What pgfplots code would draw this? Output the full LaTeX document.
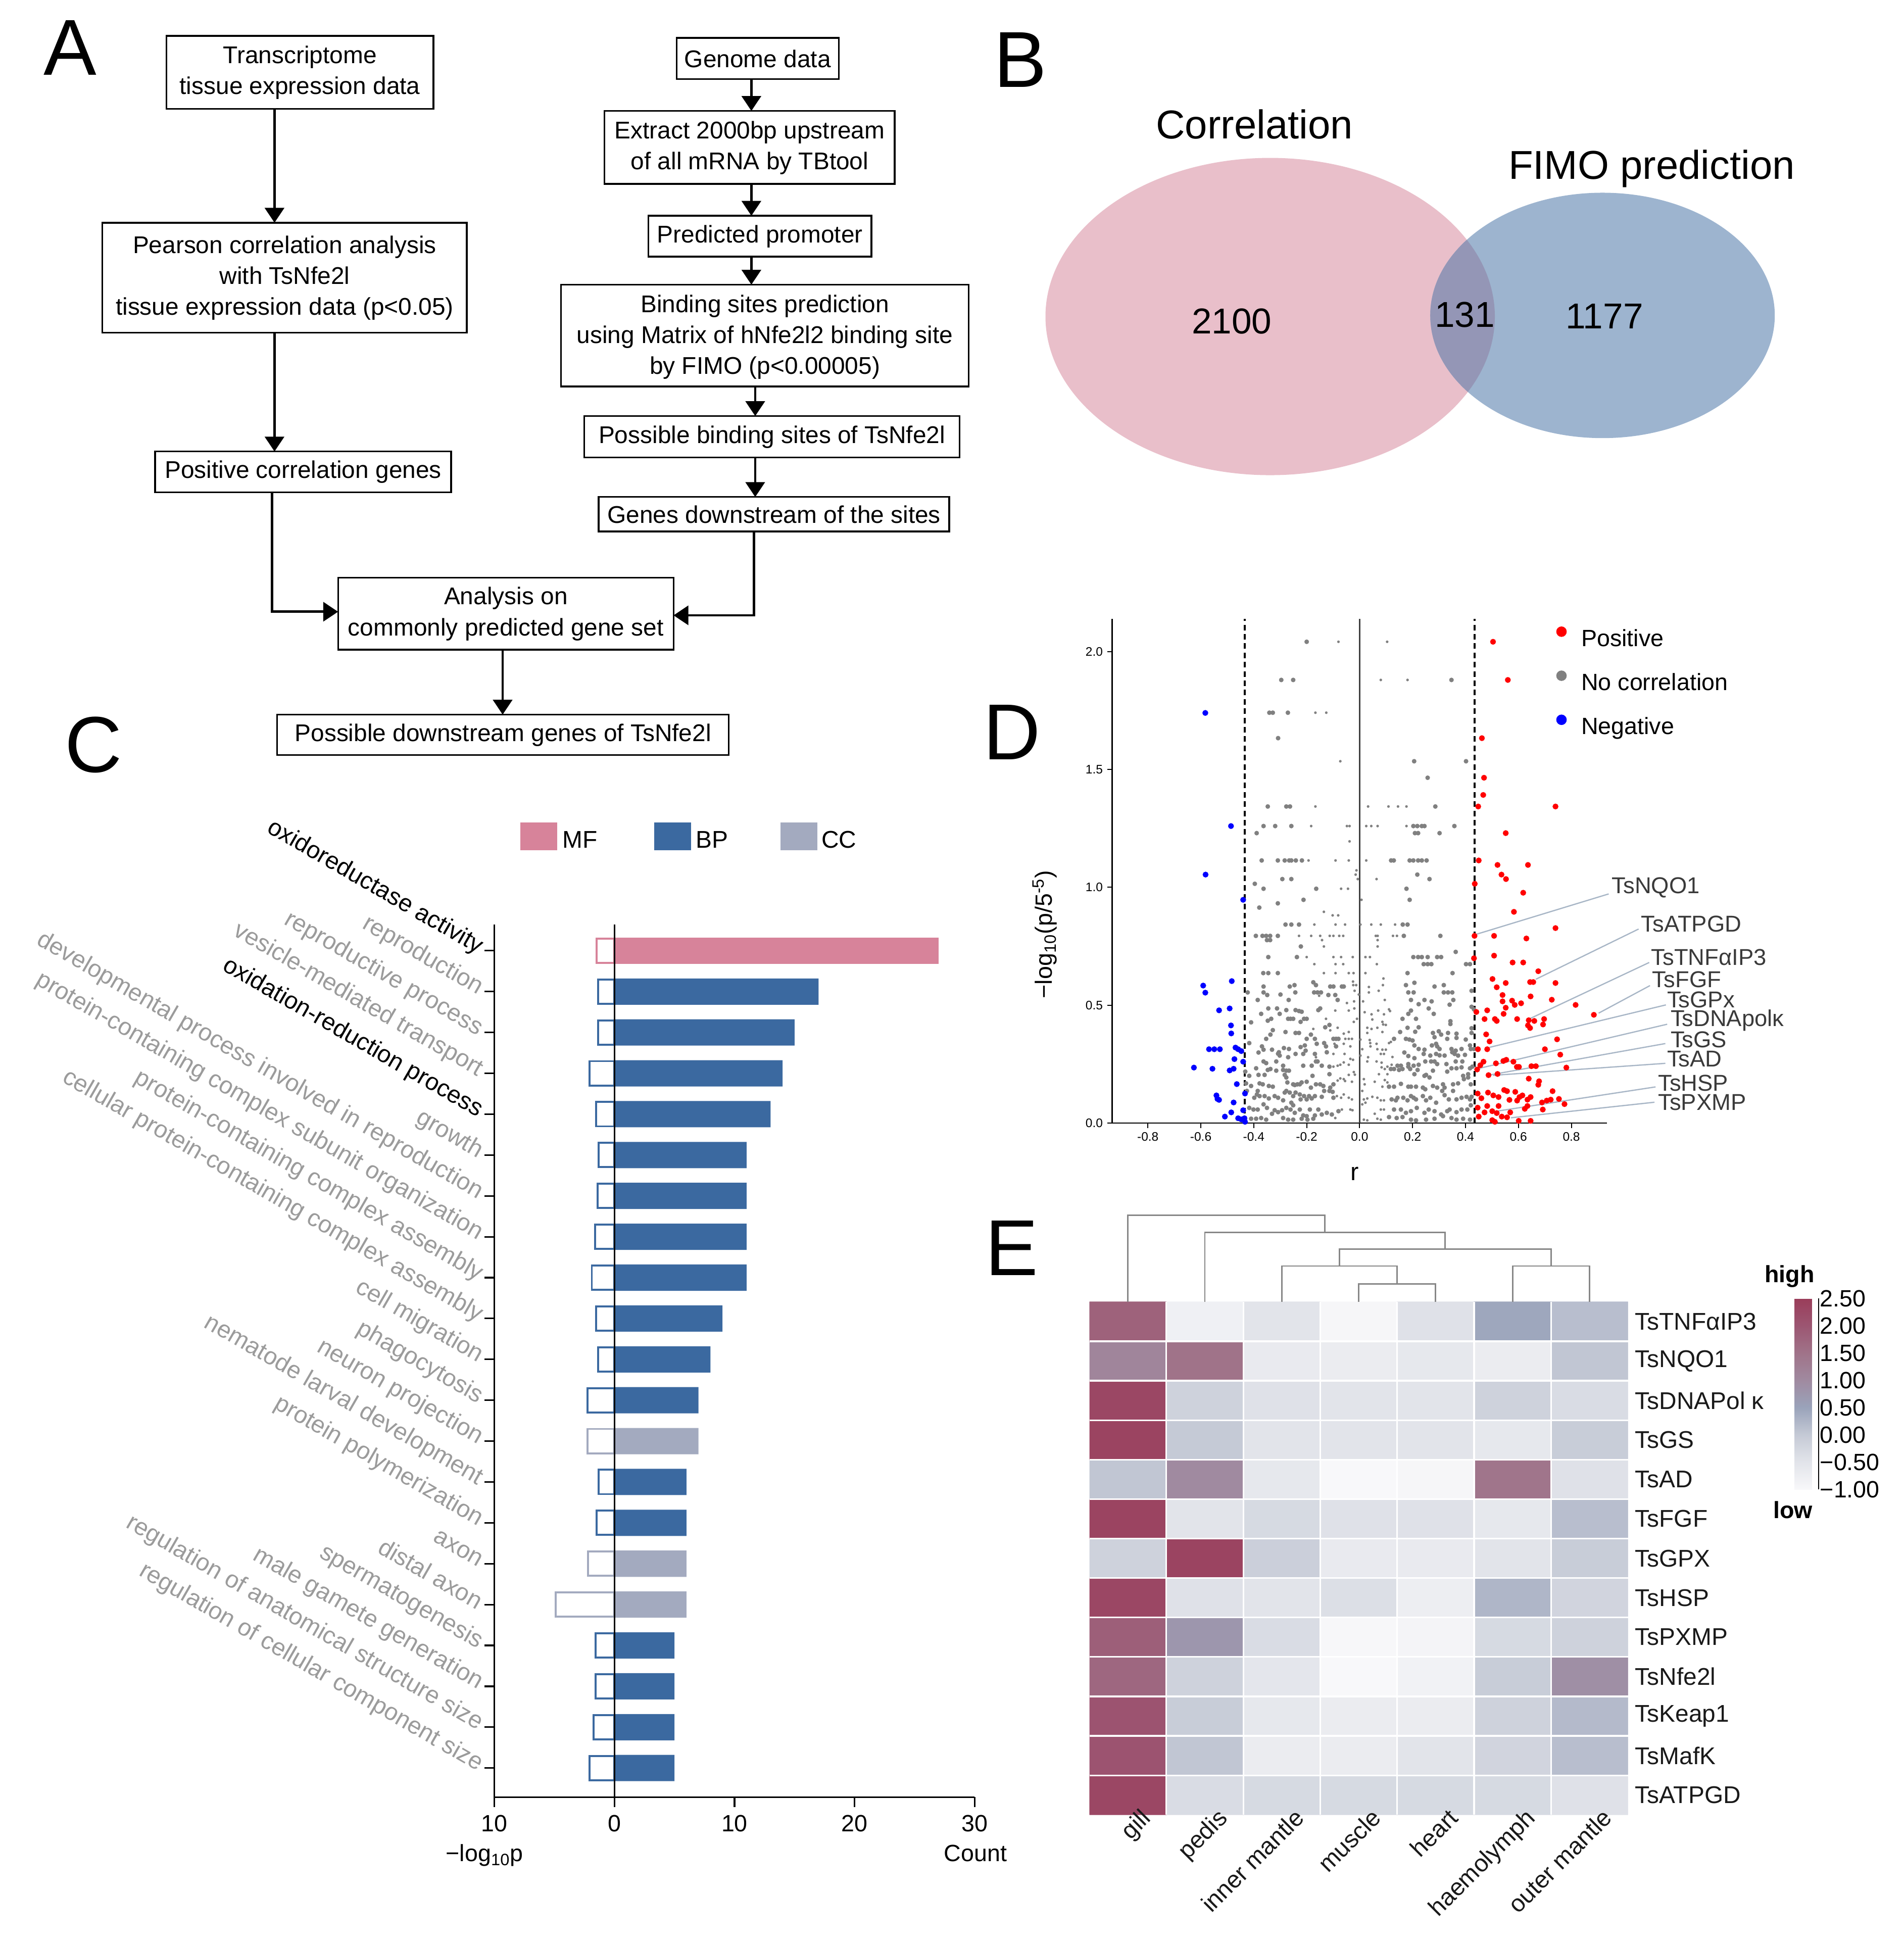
\documentclass[border=0pt]{standalone}
\usepackage{fontspec}
\setmainfont{Liberation Sans}
\usepackage{pgfplots}
\pgfplotsset{compat=1.18}
\usetikzlibrary{arrows.meta}

\definecolor{mfpink}{RGB}{215,131,154}
\definecolor{bpblue}{RGB}{59,105,160}
\definecolor{ccgray}{RGB}{163,170,191}
\definecolor{vennpink}{RGB}{233,191,202}
\definecolor{vennblue}{RGB}{157,180,207}
\definecolor{vennover}{RGB}{148,150,182}
\definecolor{labgray}{RGB}{155,155,155}
\definecolor{dotgray}{RGB}{128,128,128}
\definecolor{callout}{RGB}{168,182,198}
\definecolor{genetext}{RGB}{58,58,58}
\definecolor{dendro}{RGB}{135,135,135}

\newcommand{\fs}[1]{\fontsize{#1}{#1}\selectfont}

\begin{document}
\begin{tikzpicture}
\path[use as bounding box] (0pt,0pt) rectangle (1536pt,-1569.4pt);

\begin{scope}[x=1pt,y=-1pt]
% ---------- panel letters
\node[anchor=base, font=\fs{64}, inner sep=0] at (56.5,60.4) {A};
\node[anchor=base, font=\fs{64}, inner sep=0] at (823.5,70.2) {B};
\node[anchor=base, font=\fs{64}, inner sep=0] at (75.5,623) {C};
\node[anchor=base, font=\fs{64}, inner sep=0] at (816.5,613) {D};
\node[anchor=base, font=\fs{64}, inner sep=0] at (816.5,1029) {E};

% ---------- A: flow chart
\tikzset{fb/.style={line width=1.4pt},
  fa/.style={line width=2pt, -{Triangle[length=12pt,width=15.5pt]}},
  ft/.style={align=center, inner sep=0, font=\fontsize{19.5}{25}\selectfont}}
\draw[fb] (134.3,29.0) rectangle (349.8,87.8);
\node[ft] at (242,58.6) {Transcriptome\\tissue expression data};
\draw[fb] (546,30.6) rectangle (676.8,63.7);
\node[ft] at (611.4,47.4) {Genome data};
\draw[fb] (487.7,89.5) rectangle (722,148.3);
\node[ft] at (604.9,119.3) {Extract 2000bp upstream\\of all mRNA by TBtool};
\draw[fb] (523.2,174.1) rectangle (703.2,207.1);
\node[ft] at (613.2,190.8) {Predicted promoter};
\draw[fb] (452.7,229.7) rectangle (781.7,311.9);
\node[ft] at (617.2,272) {Binding sites prediction\\using Matrix of hNfe2l2 binding site\\by FIMO (p<0.00005)};
\draw[fb] (471.5,335.7) rectangle (774.2,369.1);
\node[ft] at (622.9,352.6) {Possible binding sites of TsNfe2l};
\draw[fb] (483.1,401) rectangle (766,428.8);
\node[ft] at (624.6,415) {Genes downstream of the sites};
\draw[fb] (82.6,179.7) rectangle (376.7,268.4);
\node[ft] at (229.7,224.3) {Pearson correlation analysis\\with TsNfe2l\\tissue expression data (p<0.05)};
\draw[fb] (125.2,364.3) rectangle (364,397.3);
\node[ft] at (244.6,380.9) {Positive correlation genes};
\draw[fb] (272.8,466.2) rectangle (543.5,524.3);
\node[ft] at (408.2,495.3) {Analysis on\\commonly predicted gene set};
\draw[fb] (223.6,576.6) rectangle (588.1,609.3);
\node[ft] at (405.9,593.1) {Possible downstream genes of TsNfe2l};

\draw[fa] (221.5,87.8) -- (221.5,179.7);
\draw[fa] (221.5,268.4) -- (221.5,364.3);
\draw[fa] (219.5,397.3) -- (219.5,493.6) -- (272.8,493.6);
\draw[fa] (606.3,63.7) -- (606.3,89.5);
\draw[fa] (606.3,148.3) -- (606.3,174.1);
\draw[fa] (606.3,207.1) -- (606.3,229.7);
\draw[fa] (609.4,311.9) -- (609.4,335.7);
\draw[fa] (609.4,369.1) -- (609.4,401);
\draw[fa] (608.4,428.8) -- (608.4,496.5) -- (543.5,496.5);
\draw[fa] (405.6,524.3) -- (405.6,576.6);

% ---------- B: Venn
\fill[vennpink] (1024.9,255.4) ellipse [x radius=181.3pt, y radius=128pt];
\fill[vennblue] (1293.1,254.5) ellipse [x radius=139pt, y radius=99pt];
\begin{scope}
\clip (1024.9,255.4) ellipse [x radius=181.3pt, y radius=128pt];
\fill[vennover] (1293.1,254.5) ellipse [x radius=139pt, y radius=99pt];
\end{scope}
\node[anchor=base, font=\fs{32.5}, inner sep=0] at (1012.3,111.8) {Correlation};
\node[anchor=base, font=\fs{32.5}, inner sep=0] at (1332.8,144.3) {FIMO prediction};
\node[anchor=base, font=\fs{29}, inner sep=0] at (993.9,269.1) {2100};
\node[anchor=base, font=\fs{29}, inner sep=0] at (1182,263.9) {131};
\node[anchor=base, font=\fs{29}, inner sep=0] at (1294.7,265.2) {1177};

% ---------- C: legend and axis titles
\fill[mfpink] (420,663.7) rectangle (449.5,686);
\node[anchor=base west, font=\fs{19.5}, inner sep=0] at (453.7,684.3) {MF};
\fill[bpblue] (527.9,663.7) rectangle (557.6,686);
\node[anchor=base west, font=\fs{19.5}, inner sep=0] at (561.5,684.3) {BP};
\fill[ccgray] (629.7,663.7) rectangle (659.5,686);
\node[anchor=base west, font=\fs{19.5}, inner sep=0] at (662.7,684.3) {CC};
\node[anchor=base, font=\fs{19}, inner sep=0] at (391,1502) {−log\textsubscript{10}p};
\node[anchor=base, font=\fs{19}, inner sep=0] at (787.2,1502) {Count};

% ---------- D: axis titles
\node[rotate=90, font=\fs{19}, inner sep=0] at (843,754) {−log\textsubscript{10}(p/5\textsuperscript{-5})};
\node[font=\fs{20}, inner sep=0] at (1093,947) {r};

% ---------- E: colorbar captions
\node[font=\bfseries\fs{19}, inner sep=0] at (1444.1,1029.7) {high};
\node[font=\bfseries\fs{19}, inner sep=0] at (1446.7,1218.5) {low};
\end{scope}

% ================= C: GO bar chart
\begin{axis}[
  at={(399pt,-1450.1pt)}, anchor=south west, scale only axis,
  width=387.4pt, height=704.3pt,
  xmin=-10, xmax=30, ymin=0.287, ymax=21.646,
  axis lines=left, axis line style={-, line width=1.3pt},
  tick align=outside, major tick length=8pt,
  tick style={black, line width=1.3pt},
  xtick={-10,0,10,20,30}, xticklabels={10,0,10,20,30},
  xticklabel style={font=\fs{19}, yshift=-3pt},
  ytick={1,...,21},
  yticklabels={regulation of cellular component size,
    regulation of anatomical structure size,
    male gamete generation, spermatogenesis, distal axon, axon,
    protein polymerization, nematode larval development,
    neuron projection, phagocytosis, cell migration,
    cellular protein-containing complex assembly,
    protein-containing complex assembly,
    protein-containing complex subunit organization,
    developmental process involved in reproduction, growth,
    \textcolor{black}{oxidation-reduction process},
    vesicle-mediated transport, reproductive process, reproduction,
    \textcolor{black}{oxidoreductase activity}},
  yticklabel style={rotate=-30, anchor=east, font=\fs{19.5}, text=labgray},
]
% -log10 p (hollow bars, drawn to the left)
\addplot[xbar, bar width=19.6pt, bar shift=0pt, fill=white, draw=mfpink, line width=1.6pt]
  coordinates {(-1.50,21)};
\addplot[xbar, bar width=19.6pt, bar shift=0pt, fill=white, draw=bpblue, line width=1.6pt]
  coordinates {(-1.38,20) (-1.38,19) (-2.09,18) (-1.55,17) (-1.33,16) (-1.41,15)
  (-1.61,14) (-1.89,13) (-1.53,12) (-1.36,11) (-2.26,10) (-1.33,8) (-1.50,7)
  (-1.58,4) (-1.58,3) (-1.75,2) (-2.06,1)};
\addplot[xbar, bar width=19.6pt, bar shift=0pt, fill=white, draw=ccgray, line width=1.6pt]
  coordinates {(-2.23,9) (-2.20,6) (-4.89,5)};
% gene counts
\addplot[xbar, bar width=21.2pt, bar shift=0pt, fill=mfpink, draw=none]
  coordinates {(27,21)};
\addplot[xbar, bar width=21.2pt, bar shift=0pt, fill=bpblue, draw=none]
  coordinates {(17,20) (15,19) (14,18) (13,17) (11,16) (11,15) (11,14) (11,13)
  (9,12) (8,11) (7,10) (6,8) (6,7) (5,4) (5,3) (5,2) (5,1)};
\addplot[xbar, bar width=21.2pt, bar shift=0pt, fill=ccgray, draw=none]
  coordinates {(7,9) (6,6) (6,5)};
\addplot[black, line width=1.3pt] coordinates {(0,0.287) (0,21.646)};
\end{axis}

% ================= D: volcano plot
\begin{axis}[
  at={(897.4pt,-906.1pt)}, anchor=south west, scale only axis,
  width=399.4pt, height=406.9pt,
  xmin=-0.935, xmax=0.935, ymin=0, ymax=2.14,
  axis lines=left, axis line style={-, line width=1pt},
  tick align=outside, major tick length=4pt,
  tick style={black, line width=0.8pt},
  xtick={-0.8,-0.6,-0.4,-0.2,0,0.2,0.4,0.6,0.8},
  xticklabels={-0.8,-0.6,-0.4,-0.2,0.0,0.2,0.4,0.6,0.8},
  ytick={0,0.5,1,1.5,2}, yticklabels={0.0,0.5,1.0,1.5,2.0},
  tick label style={font=\fs{10}},
  clip=false,
  legend style={draw=none, fill=none, at={(axis cs:0.743,2.107)}, anchor=north west,
    font=\fs{19}, row sep=15.75pt, inner sep=0pt,
    nodes={inner sep=0pt, text height=14pt, text depth=4pt},
    /tikz/every odd column/.style={column sep=12pt}},
  legend cell align=left,
  legend image code/.code={\draw[#1, mark size=4pt] plot coordinates {(0pt,6.8pt)};},
]
\addlegendimage{only marks, mark=*, red}
\addlegendentry{Positive}
\addlegendimage{only marks, mark=*, dotgray}
\addlegendentry{No correlation}
\addlegendimage{only marks, mark=*, blue}
\addlegendentry{Negative}

\addplot[black, line width=1.8pt, dash pattern=on 4.5pt off 3pt, forget plot]
  coordinates {(-0.434,0) (-0.434,2.14)};
\addplot[black, line width=1.8pt, dash pattern=on 4.5pt off 3pt, forget plot]
  coordinates {(0.434,0) (0.434,2.14)};
\addplot[black!75, line width=1pt, forget plot] coordinates {(0,0) (0,2.14)};

% no correlation, small dots (|r| close to 0)
\addplot[only marks, mark=*, dotgray, mark size=1.0pt, mark options={line width=0.1pt}, forget plot]
  coordinates {
  (-0.080,2.042) (0.104,2.042) (0.080,1.880) (0.181,1.880) (-0.167,1.741) (-0.126,1.741)
  (-0.073,1.535) (-0.167,1.343) (0.032,1.343) (0.109,1.343) (0.145,1.343) (0.177,1.343)
  (-0.183,1.260) (-0.048,1.260) (-0.038,1.260) (0.025,1.260) (0.044,1.260) (0.068,1.260)
  (0.177,1.260) (-0.038,1.195) (-0.193,1.114) (-0.091,1.114) (-0.041,1.114) (0.025,1.114)
  (-0.012,1.072) (-0.015,1.054) (-0.007,1.035) (0.064,1.035) (-0.070,0.994) (-0.044,0.994)
  (0.007,0.947) (-0.135,0.896) (-0.102,0.881) (-0.081,0.881)
  (-0.171,0.842) (-0.091,0.842) (-0.055,0.842) (0.003,0.842) (0.044,0.842) (0.080,0.842) (0.134,0.842)
  (-0.229,0.794) (-0.183,0.794) (-0.149,0.794) (-0.113,0.794) (-0.099,0.794) (-0.077,0.794)
  (-0.062,0.794) (0.061,0.794) (0.068,0.794) (0.126,0.794) (0.141,0.794)
  (-0.142,0.776) (0.068,0.776) (-0.135,0.749) (0.068,0.749)
  (-0.200,0.704) (-0.099,0.704) (-0.070,0.704) (-0.026,0.704) (0.022,0.704) (0.039,0.704)
  (-0.171,0.674) (-0.091,0.674) (-0.062,0.674) (0.065,0.674)
  (-0.135,0.636) (-0.091,0.636) (-0.041,0.636) (-0.023,0.636) (0.022,0.636)
  (-0.025,0.600) (-0.024,0.585) (-0.013,0.585) (0.035,0.577) (0.088,0.585) (0.090,0.613)
  (-0.153,0.540) (-0.019,0.561) (-0.003,0.545) (0.035,0.554) (0.072,0.561)
  (-0.048,0.509) (-0.021,0.516) (0.013,0.516) (0.095,0.522)
  (0.111,0.482) (0.115,0.475) (-0.092,0.477) (-0.041,0.477) (-0.020,0.486) (0.019,0.470)
  (0.045,0.461) (0.070,0.477) (0.092,0.461)
  (-0.127,0.442) (-0.022,0.429) (-0.010,0.442) (0.048,0.439) (0.086,0.429) (0.089,0.418) (0.099,0.416)
  (-0.175,0.399) (-0.111,0.393) (-0.083,0.404) (-0.060,0.379) (-0.041,0.386) (0.029,0.404)
  (0.029,0.382) (0.045,0.399) (0.067,0.404) (0.086,0.386)
  (-0.054,0.357) (-0.041,0.357) (-0.029,0.357) (0.003,0.354) (0.038,0.352) (0.040,0.339)
  (-0.095,0.336) (-0.060,0.336) (-0.035,0.325) (0.010,0.313) (0.041,0.325) (0.064,0.336)
  (0.067,0.313) (0.086,0.311) (0.099,0.311) (0.111,0.339) (0.118,0.344)
  (-0.165,0.279) (-0.099,0.293) (-0.057,0.293) (-0.035,0.272) (0.003,0.286) (0.032,0.279)
  (0.080,0.293) (0.092,0.293) (0.124,0.280)
  (-0.099,0.239) (-0.083,0.243) (-0.073,0.247) (-0.060,0.257) (-0.041,0.247) (-0.025,0.268)
  (0.029,0.261) (0.064,0.261) (0.083,0.256) (0.105,0.239) (0.121,0.247)
  (-0.111,0.207) (-0.073,0.189) (-0.060,0.186) (-0.041,0.204) (-0.022,0.216) (-0.018,0.205)
  (0.016,0.186) (0.073,0.207) (0.083,0.236) (0.095,0.229) (0.105,0.207)
  (-0.083,0.180) (-0.055,0.178) (-0.029,0.175) (0.019,0.164) (0.057,0.175) (0.086,0.154)
  (0.095,0.182) (0.105,0.172)
  (-0.086,0.114) (-0.070,0.107) (-0.060,0.121) (-0.041,0.107) (-0.029,0.100) (0.010,0.136)
  (0.016,0.100) (0.029,0.104) (0.048,0.111) (0.067,0.107) (0.080,0.096) (0.092,0.096)
  (-0.092,0.021) (-0.067,0.057) (-0.035,0.057) (-0.027,0.054) (0.010,0.079) (0.022,0.086)
  (0.057,0.039) (0.067,0.018) (0.080,0.057) (0.092,0.057) (0.016,0.014) (0.029,0.011) (0.080,0.014)
  };
% no correlation, larger dots
\addplot[only marks, mark=*, dotgray, mark size=1.8pt, mark options={line width=0.1pt}, forget plot]
  coordinates {
  (-0.200,2.042) (-0.296,1.880) (-0.251,1.880) (0.347,1.880)
  (-0.341,1.741) (-0.328,1.741) (-0.271,1.741) (-0.308,1.633) (0.206,1.535) (0.402,1.535)
  (0.257,1.465) (-0.347,1.343) (-0.277,1.343) (-0.263,1.343) (0.286,1.343)
  (-0.363,1.260) (-0.319,1.260) (-0.258,1.260) (0.203,1.260) (0.218,1.260) (0.235,1.260)
  (0.245,1.260) (0.358,1.260) (-0.389,1.230) (0.209,1.230) (0.221,1.230) (0.302,1.230)
  (-0.370,1.114) (-0.309,1.114) (-0.283,1.114) (-0.266,1.114) (-0.258,1.114) (-0.241,1.114)
  (-0.218,1.114) (0.119,1.114) (0.129,1.114) (0.189,1.114) (0.203,1.114) (0.221,1.114)
  (0.235,1.114) (0.253,1.114) (0.218,1.054) (-0.292,1.035) (-0.258,1.035) (0.264,1.035)
  (-0.396,1.015) (-0.363,0.994) (-0.164,0.994) (0.177,0.994) (-0.212,0.947) (0.189,0.947)
  (-0.309,0.932) (-0.379,0.914)
  (-0.280,0.842) (-0.258,0.842) (-0.229,0.842) (0.163,0.842) (0.181,0.842)
  (-0.392,0.794) (-0.367,0.794) (-0.353,0.794) (-0.338,0.794) (-0.309,0.794) (0.167,0.794) (0.305,0.794)
  (-0.350,0.776) (-0.338,0.776) (-0.222,0.749) (0.363,0.726)
  (-0.345,0.704) (-0.237,0.704) (0.203,0.704) (0.221,0.704) (0.235,0.704) (0.257,0.704)
  (0.293,0.704) (0.308,0.704)
  (0.242,0.674) (0.257,0.674) (0.271,0.674) (0.402,0.674) (0.417,0.674)
  (-0.364,0.636) (-0.345,0.636) (-0.309,0.636) (0.181,0.636) (0.351,0.636)
  (-0.363,0.579) (-0.264,0.579) (-0.246,0.585) (-0.175,0.597) (-0.165,0.585) (-0.111,0.579)
  (-0.099,0.579) (-0.067,0.579) (-0.060,0.579) (0.175,0.585) (0.207,0.595) (0.283,0.579) (0.318,0.585)
  (-0.423,0.554) (-0.363,0.554) (-0.349,0.543) (-0.299,0.545) (-0.243,0.554) (-0.172,0.554)
  (-0.159,0.554) (-0.146,0.554) (-0.118,0.543) (-0.092,0.543) (0.184,0.554) (0.204,0.554)
  (0.318,0.554) (0.334,0.554) (0.350,0.554) (0.423,0.561)
  (-0.385,0.522) (-0.268,0.522) (-0.083,0.522) (0.194,0.522) (0.245,0.522) (0.272,0.516) (0.354,0.522)
  (-0.345,0.486) (-0.312,0.486) (-0.277,0.479) (-0.242,0.479) (-0.229,0.475) (-0.219,0.472)
  (-0.372,0.463) (-0.302,0.463) (-0.156,0.479) (-0.149,0.486) (0.223,0.504) (0.261,0.486)
  (0.280,0.463) (0.340,0.502) (0.423,0.493) (0.432,0.482) (0.194,0.477) (0.184,0.463)
  (-0.410,0.427) (-0.347,0.434) (-0.334,0.442) (-0.270,0.442) (-0.261,0.442) (-0.251,0.442)
  (-0.223,0.429) (-0.210,0.442) (-0.200,0.442) (0.162,0.442) (0.213,0.442) (0.343,0.432) (0.343,0.420)
  (-0.328,0.394) (-0.337,0.375) (-0.280,0.386) (-0.242,0.382) (-0.229,0.382) (-0.130,0.406)
  (-0.114,0.416) (0.181,0.404) (0.223,0.406) (0.210,0.387) (0.153,0.386) (0.277,0.382)
  (0.299,0.389) (0.308,0.375) (0.334,0.382) (0.366,0.379) (0.423,0.402) (0.423,0.382)
  (-0.353,0.357) (-0.417,0.339) (-0.200,0.357) (-0.184,0.375) (-0.169,0.357) (-0.099,0.357)
  (-0.089,0.357) (-0.080,0.357) (0.130,0.357) (0.175,0.357) (0.188,0.354) (0.200,0.350)
  (0.283,0.364) (0.331,0.357) (0.366,0.361) (0.401,0.354)
  (-0.369,0.325) (-0.363,0.311) (-0.331,0.311) (-0.305,0.300) (-0.286,0.318) (-0.267,0.314)
  (-0.223,0.322) (-0.207,0.329) (-0.204,0.307) (-0.162,0.336) (-0.134,0.339) (-0.127,0.325)
  (-0.089,0.325) (0.207,0.329) (0.223,0.314) (0.245,0.311) (0.273,0.329) (0.289,0.336)
  (0.293,0.325) (0.302,0.314) (0.347,0.314) (0.363,0.307) (0.385,0.314) (0.417,0.329)
  (0.420,0.314) (0.432,0.314)
  (-0.382,0.299) (-0.308,0.294) (-0.302,0.286) (-0.270,0.279) (-0.242,0.293) (-0.213,0.293)
  (-0.169,0.293) (-0.124,0.300) (0.169,0.299) (0.184,0.284) (0.207,0.275) (0.242,0.293)
  (0.267,0.286) (0.289,0.293) (0.302,0.287) (0.321,0.286) (0.350,0.300) (0.359,0.293)
  (0.372,0.286) (0.398,0.289)
  (-0.363,0.261) (-0.353,0.254) (-0.315,0.261) (-0.289,0.243) (-0.213,0.243) (-0.181,0.243)
  (-0.165,0.261) (-0.159,0.261) (-0.143,0.243) (-0.114,0.239) (0.143,0.243) (0.156,0.243)
  (0.184,0.250) (0.204,0.243) (0.223,0.247) (0.248,0.261) (0.270,0.261) (0.283,0.261)
  (0.293,0.250) (0.328,0.250) (0.363,0.261) (0.388,0.261)
  (-0.432,0.218) (-0.417,0.200) (-0.391,0.232) (-0.382,0.204) (-0.359,0.204) (-0.347,0.225)
  (-0.337,0.229) (-0.315,0.222) (-0.289,0.225) (-0.277,0.222) (-0.267,0.222) (-0.283,0.204)
  (-0.277,0.193) (-0.178,0.200) (-0.114,0.207) (0.118,0.229) (0.130,0.229) (0.149,0.225)
  (0.162,0.229) (0.184,0.239) (0.191,0.229) (0.207,0.207) (0.219,0.225) (0.245,0.200)
  (0.251,0.204) (0.264,0.193) (0.277,0.222) (0.331,0.218) (0.347,0.232) (0.366,0.232)
  (0.385,0.236) (0.391,0.200) (0.410,0.207) (0.417,0.232) (0.426,0.239)
  (-0.429,0.168) (-0.410,0.157) (-0.378,0.168) (-0.366,0.164) (-0.343,0.157) (-0.328,0.154)
  (-0.273,0.172) (-0.251,0.164) (-0.245,0.161) (-0.235,0.164) (-0.226,0.164) (-0.219,0.172)
  (-0.200,0.175) (-0.184,0.150) (-0.165,0.164) (-0.149,0.164) (-0.137,0.157) (-0.111,0.150)
  (-0.099,0.164) (-0.426,0.136) (-0.385,0.136) (-0.388,0.121) (0.111,0.154) (0.130,0.154)
  (0.156,0.166) (0.184,0.154) (0.194,0.154) (0.213,0.154) (0.239,0.150) (0.248,0.143)
  (0.277,0.157) (0.293,0.150) (0.315,0.164) (0.321,0.150) (0.353,0.164) (0.372,0.168)
  (0.394,0.186) (0.410,0.193) (0.420,0.164) (0.312,0.136) (0.353,0.136)
  (-0.398,0.107) (-0.378,0.114) (-0.359,0.114) (-0.343,0.104) (-0.321,0.114) (-0.308,0.107)
  (-0.289,0.096) (-0.283,0.129) (-0.277,0.136) (-0.264,0.129) (-0.251,0.114) (-0.242,0.129)
  (-0.226,0.121) (-0.223,0.100) (-0.210,0.114) (-0.200,0.100) (-0.191,0.114) (-0.181,0.104)
  (-0.169,0.114) (-0.143,0.111) (-0.134,0.136) (-0.114,0.136) (-0.102,0.132) (-0.099,0.107)
  (-0.258,0.086) (-0.251,0.075) (0.121,0.100) (0.137,0.096) (0.143,0.107) (0.165,0.107)
  (0.181,0.096) (0.194,0.114) (0.204,0.107) (0.213,0.100) (0.239,0.114) (0.251,0.096)
  (0.267,0.107) (0.289,0.086) (0.321,0.118) (0.337,0.100) (0.366,0.100) (0.385,0.107)
  (0.404,0.111) (0.417,0.100) (0.423,0.111)
  (-0.417,0.064) (-0.401,0.057) (-0.385,0.057) (-0.363,0.079) (-0.350,0.064) (-0.331,0.039)
  (-0.321,0.054) (-0.308,0.046) (-0.293,0.054) (-0.277,0.064) (-0.261,0.057) (-0.245,0.043)
  (-0.226,0.057) (-0.213,0.032) (-0.200,0.029) (-0.188,0.057) (-0.169,0.032) (-0.156,0.057)
  (-0.143,0.036) (-0.124,0.043) (-0.105,0.036) (-0.080,0.050) (-0.410,0.018) (-0.391,0.018)
  (-0.372,0.021) (-0.353,0.014) (-0.289,0.021) (-0.270,0.014) (-0.251,0.014) (-0.219,0.018)
  (-0.197,0.014) (-0.175,0.018) (0.130,0.057) (0.156,0.057) (0.175,0.043) (0.194,0.050)
  (0.216,0.064) (0.245,0.043) (0.261,0.057) (0.283,0.050) (0.308,0.036) (0.331,0.050)
  (0.340,0.057) (0.366,0.046) (0.385,0.057) (0.407,0.057) (0.420,0.075) (0.111,0.025)
  (0.140,0.021) (0.162,0.025) (0.194,0.014) (0.213,0.011) (0.251,0.014) (0.283,0.018)
  (0.315,0.029) (0.347,0.021) (0.366,0.014) (0.391,0.018) (0.417,0.014)
  };
% positive correlation
\addplot[only marks, mark=*, red, mark size=2.3pt, mark options={line width=0.1pt}, forget plot]
  coordinates {
  (0.504,2.042) (0.560,1.880) (0.462,1.633) (0.470,1.465) (0.467,1.392) (0.448,1.343)
  (0.740,1.343) (0.552,1.230) (0.450,1.114) (0.521,1.095) (0.636,1.095) (0.536,1.054)
  (0.553,1.035) (0.435,1.015) (0.618,0.977) (0.583,0.896) (0.740,0.827) (0.434,0.794)
  (0.508,0.794) (0.630,0.783) (0.508,0.710) (0.432,0.699) (0.578,0.681) (0.618,0.681)
  (0.675,0.644) (0.502,0.611) (0.552,0.594) (0.644,0.598) (0.656,0.598) (0.740,0.594)
  (0.518,0.576) (0.540,0.543) (0.646,0.537) (0.576,0.519) (0.540,0.516) (0.610,0.508)
  (0.726,0.523) (0.816,0.501) (0.885,0.459) (0.441,0.471) (0.482,0.478) (0.552,0.489)
  (0.586,0.501) (0.472,0.441) (0.511,0.441) (0.518,0.433) (0.544,0.463) (0.595,0.441)
  (0.639,0.436) (0.660,0.433) (0.697,0.441) (0.693,0.418) (0.636,0.414) (0.644,0.403)
  (0.478,0.376) (0.491,0.346) (0.746,0.355) (0.447,0.313) (0.482,0.313) (0.700,0.313)
  (0.758,0.290) (0.468,0.260) (0.515,0.253) (0.543,0.263) (0.554,0.268) (0.581,0.260)
  (0.456,0.245) (0.594,0.238) (0.602,0.238) (0.649,0.241) (0.666,0.241) (0.781,0.235)
  (0.444,0.227) (0.487,0.203) (0.521,0.208) (0.639,0.188) (0.678,0.177) (0.675,0.162)
  (0.446,0.125) (0.485,0.129) (0.505,0.117) (0.546,0.140) (0.557,0.135) (0.588,0.132)
  (0.460,0.105) (0.525,0.110) (0.604,0.110) (0.615,0.117) (0.646,0.110) (0.729,0.135)
  (0.566,0.098) (0.595,0.095) (0.634,0.099) (0.689,0.087) (0.707,0.095) (0.722,0.099)
  (0.753,0.102) (0.774,0.080) (0.446,0.065) (0.482,0.072) (0.525,0.072) (0.634,0.072)
  (0.692,0.057) (0.472,0.045) (0.501,0.050) (0.518,0.042) (0.569,0.045) (0.624,0.060)
  (0.537,0.027) (0.557,0.024) (0.501,0.012) (0.511,0.005) (0.601,0.009) (0.646,0.009)
  (0.450,0.027)
  };
% negative correlation
\addplot[only marks, mark=*, blue, mark size=2.3pt, mark options={line width=0.1pt}, forget plot]
  coordinates {
  (-0.583,1.740) (-0.486,1.260) (-0.582,1.054) (-0.440,0.947) (-0.591,0.583) (-0.483,0.602)
  (-0.583,0.553) (-0.531,0.478) (-0.491,0.486) (-0.486,0.414) (-0.485,0.380) (-0.569,0.313)
  (-0.549,0.313) (-0.528,0.313) (-0.469,0.320) (-0.459,0.313) (-0.447,0.305) (-0.473,0.271)
  (-0.440,0.260) (-0.626,0.235) (-0.556,0.230) (-0.491,0.223) (-0.476,0.230) (-0.464,0.165)
  (-0.433,0.125) (-0.541,0.117) (-0.531,0.098) (-0.537,0.102) (-0.476,0.087) (-0.509,0.027)
  (-0.485,0.045) (-0.440,0.054) (-0.459,0.020) (-0.447,0.015) (-0.435,0.020) (-0.433,0.005)
  };
% call-out lines to labelled genes
\addplot[callout, line width=1pt, forget plot] coordinates {(0.436,0.799) (0.941,0.972)};
\addplot[callout, line width=1pt, forget plot] coordinates {(0.666,0.610) (1.054,0.823)};
\addplot[callout, line width=1pt, forget plot] coordinates {(0.640,0.441) (1.094,0.681)};
\addplot[callout, line width=1pt, forget plot] coordinates {(0.903,0.466) (1.097,0.583)};
\addplot[callout, line width=1pt, forget plot] coordinates {(0.491,0.321) (1.157,0.501)};
\addplot[callout, line width=1pt, forget plot] coordinates {(0.449,0.231) (1.162,0.419)};
\addplot[callout, line width=1pt, forget plot] coordinates {(0.483,0.202) (1.155,0.337)};
\addplot[callout, line width=1pt, forget plot] coordinates {(0.504,0.202) (1.155,0.253)};
\addplot[callout, line width=1pt, forget plot] coordinates {(0.500,0.047) (1.118,0.153)};
\addplot[callout, line width=1pt, forget plot] coordinates {(0.572,0.022) (1.114,0.088)};
\begin{scope}[every node/.style={anchor=west, font=\fs{18.5}, text=genetext, inner sep=0}]
\node at (axis cs:0.952,0.998) {TsNQO1};
\node at (axis cs:1.063,0.845) {TsATPGD};
\node at (axis cs:1.101,0.704) {TsTNFαIP3};
\node at (axis cs:1.105,0.608) {TsFGF};
\node at (axis cs:1.161,0.524) {TsGPx};
\node at (axis cs:1.174,0.436) {TsDNApolκ};
\node at (axis cs:1.174,0.354) {TsGS};
\node at (axis cs:1.161,0.272) {TsAD};
\node at (axis cs:1.127,0.170) {TsHSP};
\node at (axis cs:1.127,0.088) {TsPXMP};
\end{scope}
\end{axis}

% ================= E: heat map
\begin{axis}[
  at={(879.1pt,-1464.3pt)}, anchor=south west, scale only axis,
  width=434.5pt, height=413.9pt,
  xmin=-0.5, xmax=6.5, ymin=-0.5, ymax=12.5,
  axis line style={draw=none}, tick style={draw=none},
  xtick={0,...,6},
  xticklabels={gill,pedis,inner mantle,muscle,heart,haemolymph,outer mantle},
  xticklabel style={rotate=45, anchor=north east, inner sep=0pt, font=\fs{19.5},
    text=black!90, xshift=11pt, yshift=-2pt},
  ytick={0,...,12},
  yticklabels={TsATPGD,TsMafK,TsKeap1,TsNfe2l,TsPXMP,TsHSP,TsGPX,TsFGF,TsAD,TsGS,
    TsDNAPol κ,TsNQO1,TsTNFαIP3},
  yticklabel pos=right,
  yticklabel style={anchor=west, font=\fs{19.5}, text=black!90, inner sep=0pt, xshift=5.6pt},
  minor xtick={0.5,1.5,...,5.5}, minor ytick={0.5,1.5,...,11.5},
  xminorgrids, yminorgrids, minor grid style={white, line width=1.3pt},
  axis on top,
  colormap={hm}{rgb255=(248,248,250) rgb255=(226,228,234) rgb255=(197,202,214)
    rgb255=(154,163,186) rgb255=(160,138,160) rgb255=(160,115,137)
    rgb255=(156,86,114) rgb255=(154,61,90)},
  point meta min=-1, point meta max=2.5,
  colorbar,
  colorbar style={at={(parent axis.north east)}, anchor=north west,
    xshift=125.8pt, yshift=2.7pt, scale only axis, width=19.5pt, height=154.1pt,
    ytick={-1,-0.5,0,0.5,1,1.5,2,2.5},
    yticklabels={−1.00,−0.50,0.00,0.50,1.00,1.50,2.00,2.50},
    yticklabel style={font=\fs{19}, inner sep=1pt},
    axis y line*=right, axis x line=none,
    y axis line style={-, line width=1pt},
    tick align=inside, major tick length=5pt, ytick style={black, line width=1pt}},
]
\addplot[matrix plot*, mesh/cols=7, point meta=explicit] table[meta=c] {
x y c
0 0 2.3
1 0 -0.35
2 0 -0.3
3 0 -0.3
4 0 -0.3
5 0 -0.3
6 0 -0.45
0 1 2.05
1 1 0.05
2 1 -0.7
3 1 -0.7
4 1 -0.5
5 1 -0.2
6 1 0.15
0 2 2.05
1 2 -0.05
2 2 -0.6
3 2 -0.7
4 2 -0.7
5 2 -0.15
6 2 0.2
0 3 1.7
1 3 -0.15
2 3 -0.55
3 3 -1.0
4 3 -0.85
5 3 -0.05
6 3 0.9
0 4 1.85
1 4 0.75
2 4 -0.35
3 4 -0.98
4 4 -0.9
5 4 -0.3
6 4 -0.15
0 5 2.3
1 5 -0.45
2 5 -0.5
3 5 -0.4
4 5 -0.75
5 5 0.25
6 5 -0.2
0 6 -0.15
1 6 2.35
2 6 -0.1
3 6 -0.65
4 6 -0.65
5 6 -0.5
6 6 -0.05
0 7 2.35
1 7 -0.5
2 7 -0.3
3 7 -0.45
4 7 -0.45
5 7 -0.6
6 7 0.15
0 8 0.05
1 8 1.0
2 8 -0.6
3 8 -1.0
4 8 -0.95
5 8 1.45
6 8 -0.45
0 9 2.35
1 9 0.0
2 9 -0.5
3 9 -0.5
4 9 -0.5
5 9 -0.6
6 9 -0.05
0 10 2.3
1 10 -0.15
2 10 -0.45
3 10 -0.5
4 10 -0.5
5 10 -0.15
6 10 -0.35
0 11 1.1
1 11 1.5
2 11 -0.65
3 11 -0.7
4 11 -0.6
5 11 -0.7
6 11 0.05
0 12 1.8
1 12 -0.8
2 12 -0.5
3 12 -0.95
4 12 -0.45
5 12 0.45
6 12 0.15
};
\end{axis}

% ================= E: dendrogram over the columns
\begin{axis}[
  at={(879.1pt,-1050.4pt)}, anchor=south west, scale only axis,
  width=434.5pt, height=69.7pt,
  xmin=-0.5, xmax=6.5, ymin=0, ymax=2.19,
  hide axis, clip=false,
]
\addplot[dendro, line width=1.2pt] coordinates {(3,0) (3,0.453) (4,0.453) (4,0)};
\addplot[dendro, line width=1.2pt] coordinates {(2,0) (2,0.907) (3.5,0.907) (3.5,0.453)};
\addplot[dendro, line width=1.2pt] coordinates {(5,0) (5,0.907) (6,0.907) (6,0)};
\addplot[dendro, line width=1.2pt] coordinates {(2.75,0.907) (2.75,1.336) (5.5,1.336) (5.5,0.907)};
\addplot[dendro, line width=1.2pt] coordinates {(1,0) (1,1.765) (4.125,1.765) (4.125,1.336)};
\addplot[dendro, line width=1.2pt] coordinates {(0,0) (0,2.19) (2.5625,2.19) (2.5625,1.765)};
\end{axis}
\end{tikzpicture}
\end{document}
